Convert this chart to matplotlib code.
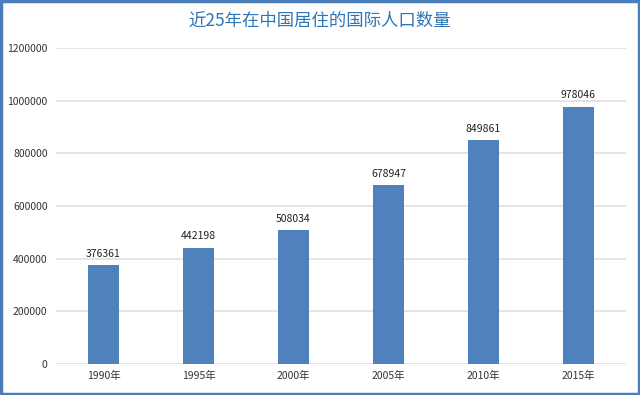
import matplotlib.pyplot as plt
import numpy as np
from matplotlib.patches import Rectangle

plt.rcParams['font.family'] = ['Noto Sans CJK SC', 'DejaVu Sans']

years = ['1990年', '1995年', '2000年', '2005年', '2010年', '2015年']
population = [376361, 442198, 508034, 678947, 849861, 978046]
yticks = [0, 200000, 400000, 600000, 800000, 1000000, 1200000]

fig = plt.figure(figsize=(6.4, 3.95), dpi=100)
ax = fig.add_axes([0.0875, 0.0785, 0.8905, 0.7995])

x = np.arange(len(years))
bars = ax.bar(x, population, width=0.32, color='#4F81BD', zorder=3)
for b, v in zip(bars, population):
    ax.text(b.get_x() + b.get_width() / 2, v + 24000, str(v),
            ha='center', va='bottom', fontsize=7.5, color='#222222')

ax.set_xlim(-0.5, len(years) - 0.5)
ax.set_ylim(0, 1200000)
ax.set_yticks(yticks)
ax.set_yticklabels([str(t) for t in yticks])
ax.set_xticks(x)
ax.set_xticklabels(years)
ax.tick_params(length=0, labelsize=7.5, colors='#333333')
ax.tick_params(axis='y', pad=6)
ax.tick_params(axis='x', pad=5)
ax.grid(axis='y', color='#DDDDDD', linewidth=1.1, zorder=0)
for s in ax.spines.values():
    s.set_visible(False)

fig.text(0.5, 0.948, '近25年在中国居住的国际人口数量', ha='center', va='center',
         fontsize=12.5, color='#2E75B6')

# blue frame around the whole picture
fig.patches.append(Rectangle((0.002, 0.003), 0.996, 0.994, transform=fig.transFigure,
                             fill=False, edgecolor='#4A7EBB', linewidth=2.5))

fig.savefig('out.png', dpi=100)
